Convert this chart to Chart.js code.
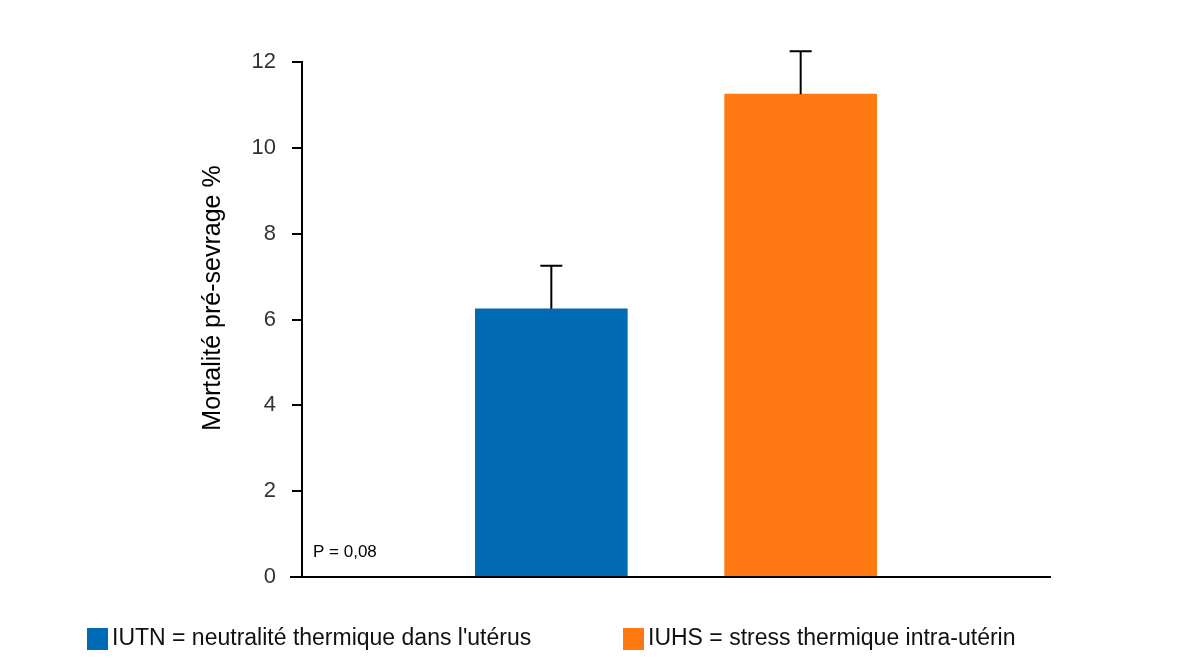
<!DOCTYPE html>
<html><head><meta charset="utf-8">
<script src="https://cdn.jsdelivr.net/npm/chart.js@4"></script>
<style>body{margin:0;background:#fff}#w{position:relative;width:1201px;height:664px}</style>
</head><body><div id="w"><canvas id="c" width="1201" height="664"></canvas></div>
<script>
const categories = ["", "IUTN", "IUHS", ""];
const values = [null, 6.25, 11.25, null];
const errorTops = [null, 7.25, 12.25, null];
const colors = ["#006AB4", "#FF7811"];
const yTicks = [0, 2, 4, 6, 8, 10, 12];
const legendLabels = ["IUTN = neutralité thermique dans l'utérus", "IUHS = stress thermique intra-utérin"];
const yTitle = "Mortalité pré-sevrage %";
const pNote = "P = 0,08";
const FONT = "'Liberation Sans', Arial, sans-serif";

const extras = {
  id: 'extras',
  afterDatasetsDraw(chart) {
    const ctx = chart.ctx, x = chart.scales.x, y = chart.scales.y;
    ctx.save();
    ctx.strokeStyle = '#000'; ctx.lineWidth = 2;
    errorTops.forEach((e, i) => {
      if (e == null) return;
      const px = x.getPixelForValue(i);
      ctx.beginPath();
      ctx.moveTo(px, y.getPixelForValue(values[i]));
      ctx.lineTo(px, y.getPixelForValue(e));
      ctx.moveTo(px - 11, y.getPixelForValue(e));
      ctx.lineTo(px + 11, y.getPixelForValue(e));
      ctx.stroke();
    });
    ctx.fillStyle = '#000';
    ctx.font = '17px ' + FONT;
    ctx.textBaseline = 'middle';
    ctx.fillText(pNote, 313, 552);
    ctx.translate(213, 298); ctx.rotate(-Math.PI/2);
    ctx.font = '25px ' + FONT; ctx.textAlign = 'center';
    ctx.fillText(yTitle, 0, 0);
    ctx.restore();
    ctx.save();
    ctx.strokeStyle = '#000'; ctx.lineWidth = 2;
    ctx.beginPath(); ctx.moveTo(290, y.getPixelForValue(0)); ctx.lineTo(chart.chartArea.right, y.getPixelForValue(0)); ctx.stroke();
    const lx = [87, 623];
    ctx.font = '23px ' + FONT; ctx.textBaseline = 'middle';
    legendLabels.forEach((t, i) => {
      ctx.fillStyle = colors[i]; ctx.fillRect(lx[i], 628, 21, 22);
      ctx.fillStyle = '#111'; ctx.fillText(t, lx[i] + 25, 639);
    });
    ctx.restore();
  }
};

new Chart(document.getElementById('c'), {
  type: 'bar',
  data: { labels: categories, datasets: [{ data: values, backgroundColor: [null, colors[0], colors[1], null], barThickness: 152 }] },
  options: {
    responsive: false, animation: false, devicePixelRatio: 1,
    layout: { padding: { left: 0, top: 62, right: 151, bottom: 87 } },
    plugins: { legend: { display: false }, tooltip: { enabled: false } },
    scales: {
      x: { offset: false, grid: { display: false }, ticks: { display: false },
           border: { color: '#000', width: 2 }, afterFit: s => { s.height = 0; } },
      y: { min: 0, max: 12, afterBuildTicks: s => { s.ticks = yTicks.map(v => ({ value: v })); },
           grid: { drawOnChartArea: false, tickLength: 10, color: '#000', lineWidth: 2 },
           border: { color: '#000', width: 2 },
           ticks: { color: '#333', font: { size: 22, family: FONT }, padding: 16 },
           afterFit: s => { s.width = 302; } }
    }
  },
  plugins: [extras]
});
</script></body></html>
